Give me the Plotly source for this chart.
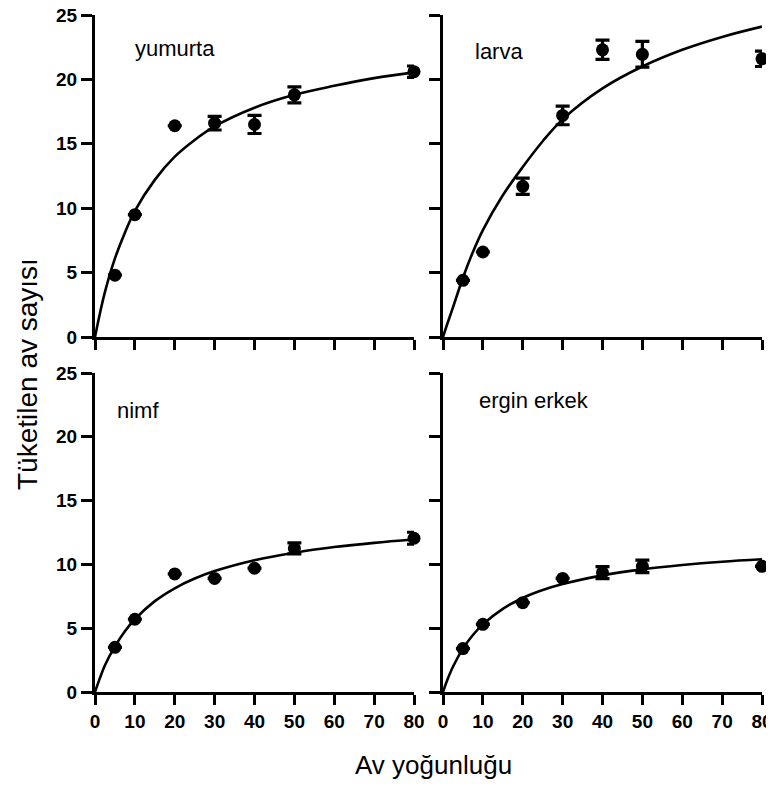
import plotly.graph_objects as go

# ---- data ----
density = [5, 10, 20, 30, 40, 50, 80]

yumurta_mean = [4.8, 9.5, 16.4, 16.6, 16.5, 18.8, 20.6]
yumurta_err = [None, None, None, 0.53, 0.70, 0.62, 0.44]

larva_mean = [4.4, 6.6, 11.7, 17.2, 22.3, 21.95, 21.6]
larva_err = [None, None, 0.63, 0.72, 0.75, 1.0, 0.6]

nimf_mean = [3.5, 5.7, 9.25, 8.9, 9.7, 11.25, 12.05]
nimf_err = [None, None, None, None, None, 0.43, 0.47]

erkek_mean = [3.4, 5.3, 7.0, 8.9, 9.35, 9.85, 9.85]
erkek_err = [None, None, None, None, 0.47, 0.49, None]

# fitted curves
curve_x = [0, 1, 2.5, 5, 7.5, 10, 15, 20, 25, 30, 40, 50, 60, 70, 80]
yumurta_curve = [0, 1.5, 3.5, 6.1, 8.1, 9.8, 12.2, 14.0, 15.3, 16.35, 17.8, 18.8, 19.5, 20.1, 20.55]
larva_curve = [0, 0.95, 2.3, 4.6, 6.6, 8.3, 11.0, 13.2, 15.2, 16.9, 19.3, 21.0, 22.3, 23.3, 24.1]
nimf_curve = [0, 0.89, 2.1, 3.57, 4.76, 5.7, 7.12, 8.13, 8.89, 9.48, 10.33, 10.92, 11.36, 11.69, 11.95]
erkek_curve = [0, 0.88, 1.98, 3.4, 4.47, 5.3, 6.52, 7.37, 7.99, 8.46, 9.14, 9.61, 9.95, 10.21, 10.4]

panel_labels = ["yumurta", "larva", "nimf", "ergin erkek"]
label_pos = [(9.5, 22.4), (7.6, 22.15), (5.0, 22.1), (8.45, 22.85)]

x_ticks = [0, 10, 20, 30, 40, 50, 60, 70, 80]
y_ticks = [0, 5, 10, 15, 20, 25]

x_title = "Av yoğunluğu"
y_title = "Tüketilen av sayısı"

# ---- figure ----
# the page body adds an 8px offset, so the figure is laid out 8px smaller
OFF = 8
W, H = 766, 773
FONT = "Liberation Sans, Arial, sans-serif"

def px_x(p):
    return (p - OFF) / W

def px_y(p):
    return 1 - (p - OFF) / H

fig = go.Figure()

panels = [
    (yumurta_mean, yumurta_err, yumurta_curve, "x", "y"),
    (larva_mean, larva_err, larva_curve, "x2", "y2"),
    (nimf_mean, nimf_err, nimf_curve, "x3", "y3"),
    (erkek_mean, erkek_err, erkek_curve, "x4", "y4"),
]

for (mean, err, curve, xa, ya), lab, (lx, ly) in zip(panels, panel_labels, label_pos):
    fig.add_trace(go.Scatter(
        x=curve_x, y=curve, mode="lines", xaxis=xa, yaxis=ya,
        line=dict(color="black", width=2.6, shape="spline", smoothing=1.0),
        showlegend=False, cliponaxis=False, hoverinfo="skip"))
    fig.add_trace(go.Scatter(
        x=density, y=mean, mode="markers", xaxis=xa, yaxis=ya,
        marker=dict(color="black", size=13, symbol="circle"),
        error_y=dict(type="data", array=err, visible=True,
                     color="black", thickness=3.2, width=7),
        showlegend=False, cliponaxis=False))
    fig.add_annotation(x=lx, y=ly, xref=xa, yref=ya, text=lab,
                       showarrow=False, xanchor="left", yanchor="middle",
                       font=dict(family=FONT, size=22, color="black"))

xdom_l = [px_x(95), px_x(414)]
xdom_r = [px_x(443), px_x(762)]
ydom_t = [px_y(337), px_y(15)]
ydom_b = [px_y(692), px_y(373)]

tickfont = dict(family=FONT, size=19, color="black", weight="bold")

def xaxis(domain, anchor, labels):
    return dict(domain=domain, anchor=anchor, range=[0, 80], automargin=False,
                tickvals=x_ticks, showticklabels=labels, ticklabeloverflow="allow",
                ticks="outside", ticklen=10, tickwidth=3, tickcolor="black",
                showline=True, linewidth=3, linecolor="black",
                showgrid=False, zeroline=False, tickfont=tickfont)

def yaxis(domain, anchor, labels):
    return dict(domain=domain, anchor=anchor, range=[0, 25], automargin=False,
                tickvals=y_ticks, showticklabels=labels, ticklabeloverflow="allow",
                ticks="outside", ticklen=11, tickwidth=3, tickcolor="black",
                showline=True, linewidth=3, linecolor="black",
                showgrid=False, zeroline=False, tickfont=tickfont)

fig.update_layout(
    width=W, height=H,
    margin=dict(l=0, r=0, t=0, b=0, autoexpand=False),
    paper_bgcolor="white", plot_bgcolor="white",
    xaxis=xaxis(xdom_l, "y", False),
    yaxis=yaxis(ydom_t, "x", True),
    xaxis2=xaxis(xdom_r, "y2", False),
    yaxis2=yaxis(ydom_t, "x2", False),
    xaxis3=xaxis(xdom_l, "y3", True),
    yaxis3=yaxis(ydom_b, "x3", True),
    xaxis4=xaxis(xdom_r, "y4", True),
    yaxis4=yaxis(ydom_b, "x4", False),
)

fig.add_annotation(x=px_x(433), y=px_y(765), xref="paper", yref="paper",
                   text=x_title, showarrow=False, xanchor="center", yanchor="middle",
                   font=dict(family=FONT, size=26, color="black"))
fig.add_annotation(x=px_x(27), y=px_y(374), xref="paper", yref="paper",
                   text=y_title, showarrow=False, textangle=-90,
                   xanchor="center", yanchor="middle",
                   font=dict(family=FONT, size=28, color="black"))

fig.write_html("out.html")
